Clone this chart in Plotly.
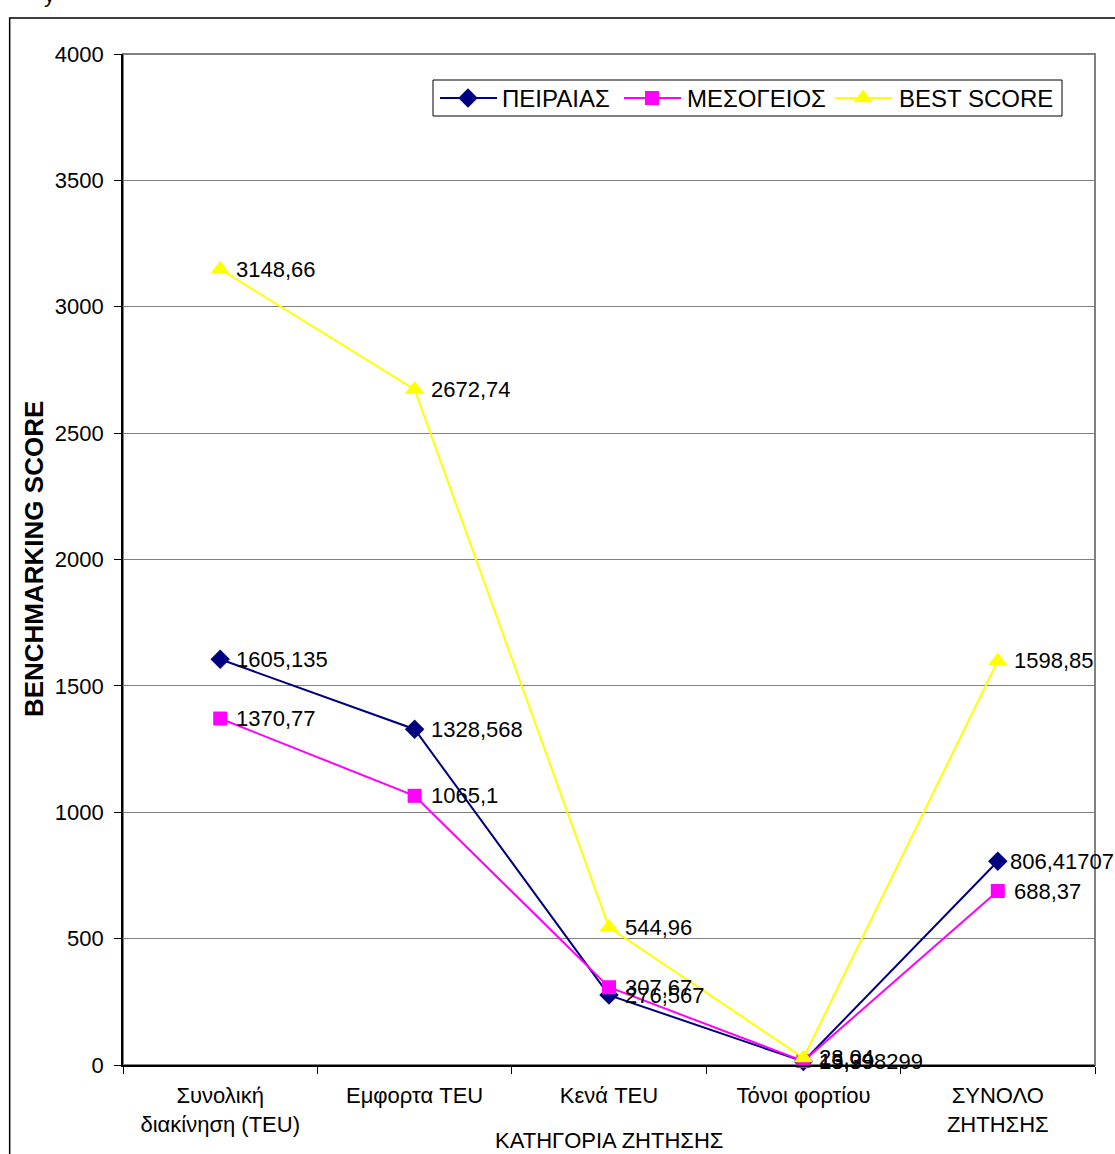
import plotly.graph_objects as go

# Demand categories and benchmarking scores
categories = ["Συνολική<br>διακίνηση (TEU)", "Εμφορτα TEU", "Κενά TEU", "Τόνοι φορτίου", "ΣΥΝΟΛΟ<br>ΖΗΤΗΣΗΣ"]
peiraias = [1605.135, 1328.568, 276.567, 13.998299, 806.41707]
mesogeios = [1370.77, 1065.1, 307.67, 15.39, 688.37]
best_score = [3148.66, 2672.74, 544.96, 28.04, 1598.85]

series = [
    ("ΠΕΙΡΑΙΑΣ", peiraias, "#000080", "diamond", 15),
    ("ΜΕΣΟΓΕΙΟΣ", mesogeios, "#FF00FF", "square", 14),
    ("BEST SCORE", best_score, "#FFFF00", "triangle-up", 17),
]

FONT = "Arial, Liberation Sans, sans-serif"
LABEL_SHIFT = 14
# the last ΠΕΙΡΑΙΑΣ label sits tighter to its marker so it stays inside the frame
LABEL_SHIFT_OVERRIDE = {("ΠΕΙΡΑΙΑΣ", 4): 10}


def fmt(v):
    # decimal comma, as in the Greek locale
    return str(v).replace(".", ",")


fig = go.Figure()
annotations = []
for name, vals, color, symbol, size in series:
    fig.add_trace(go.Scatter(
        x=categories, y=vals, name=name, mode="lines+markers",
        line=dict(color=color, width=2),
        marker=dict(symbol=symbol, size=size, color=color, line=dict(width=0)),
        cliponaxis=False, showlegend=False,
    ))
    for i, (c, v) in enumerate(zip(categories, vals)):
        annotations.append(dict(
            x=c, y=v, xref="x", yref="y", text=fmt(v), showarrow=False,
            xanchor="left", yanchor="middle",
            xshift=LABEL_SHIFT_OVERRIDE.get((name, i), LABEL_SHIFT),
            font=dict(family=FONT, size=22, color="black"),
        ))

# Legend drawn on an overlay axis measured in page pixels (x right, y down)
legend_items = [(440, 500), (624, 685), (835, 897)]
for (name, _, color, symbol, size), (x_line, x_text) in zip(series, legend_items):
    fig.add_trace(go.Scatter(
        x=[x_line, x_line + 57], y=[98, 98],
        xaxis="x2", yaxis="y2", mode="lines",
        line=dict(color=color, width=2),
        showlegend=False, hoverinfo="skip", cliponaxis=False,
    ))
    fig.add_trace(go.Scatter(
        x=[x_line + 28], y=[98],
        xaxis="x2", yaxis="y2", mode="markers",
        marker=dict(symbol=symbol, size=size, color=color, line=dict(width=0)),
        showlegend=False, hoverinfo="skip", cliponaxis=False,
    ))
    annotations.append(dict(
        x=x_text, y=98, xref="x2", yref="y2", text=name, showarrow=False,
        xanchor="left", yanchor="middle",
        font=dict(family=FONT, size=24, color="black"),
    ))

# y-axis title
annotations.append(dict(
    x=-0.092, y=0.5, xref="paper", yref="paper", text="<b>BENCHMARKING SCORE</b>",
    showarrow=False, textangle=-90, xanchor="center", yanchor="middle",
    font=dict(family=FONT, size=26, color="black"),
))
# x-axis title
annotations.append(dict(
    x=0.5, y=-0.060, xref="paper", yref="paper", text="ΚΑΤΗΓΟΡΙΑ ΖΗΤΗΣΗΣ",
    showarrow=False, xanchor="center", yanchor="top",
    font=dict(family=FONT, size=22, color="black"),
))
# stray letter from the surrounding text, just above the frame
annotations.append(dict(
    x=-0.0755, y=1, xref="paper", yref="paper", text="y",
    showarrow=False, xanchor="center", yanchor="middle", yshift=60,
    font=dict(family=FONT, size=22, color="black"),
))

shapes = [
    # outer frame of the chart object
    dict(type="rect", xref="paper", yref="paper", x0=-0.1166, x1=1.05, y0=-0.12, y1=1.0356,
         line=dict(color="black", width=1.5), layer="below"),
    # plot area border (grey)
    dict(type="rect", xref="paper", yref="paper", x0=0, x1=1, y0=0, y1=1,
         line=dict(color="#808080", width=2), layer="below"),
    # legend box
    dict(type="rect", xref="x2", yref="y2", x0=433, x1=1062, y0=80, y1=116,
         line=dict(color="black", width=1), layer="below"),
]

fig.update_layout(
    width=1115, height=1154,
    margin=dict(l=123, r=20, t=54, b=89),
    paper_bgcolor="white", plot_bgcolor="white",
    font=dict(family=FONT, size=22, color="black"),
    showlegend=False,
    xaxis=dict(
        type="category", tickson="boundaries", ticks="outside", ticklen=7,
        tickcolor="black", showline=True, linecolor="black", linewidth=1.5,
        showgrid=False, zeroline=False, ticklabelstandoff=10,
        tickfont=dict(family=FONT, size=22), range=[-0.5, 4.5],
    ),
    yaxis=dict(
        range=[0, 4000], dtick=500, ticks="outside", ticklen=7, tickcolor="black",
        showline=True, linecolor="black", linewidth=1.5,
        showgrid=True, gridcolor="#808080", gridwidth=1, zeroline=False,
        tickfont=dict(family=FONT, size=22), ticksuffix=" ",
    ),
    xaxis2=dict(overlaying="x", anchor="y2", range=[123, 1095], visible=False,
                fixedrange=True),
    yaxis2=dict(overlaying="y", anchor="x2", range=[1065, 54], visible=False,
                fixedrange=True),
    annotations=annotations,
    shapes=shapes,
)

fig.write_html("out.html")
